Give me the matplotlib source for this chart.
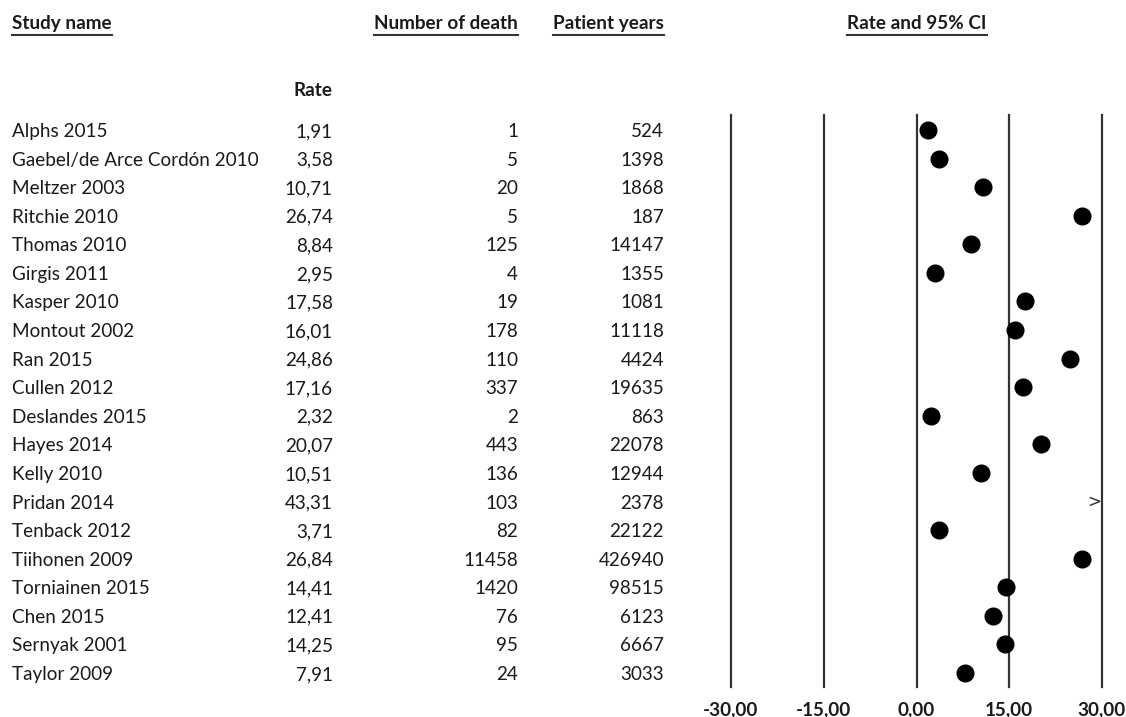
import matplotlib

matplotlib.use("Agg")

import matplotlib.pyplot as plt
from matplotlib.lines import Line2D
from matplotlib.transforms import blended_transform_factory

studies = [
    "Alphs 2015", "Gaebel/de Arce Cordón 2010", "Meltzer 2003", "Ritchie 2010",
    "Thomas 2010", "Girgis 2011", "Kasper 2010", "Montout 2002", "Ran 2015",
    "Cullen 2012", "Deslandes 2015", "Hayes 2014", "Kelly 2010", "Pridan 2014",
    "Tenback 2012", "Tiihonen 2009", "Torniainen 2015", "Chen 2015",
    "Sernyak 2001", "Taylor 2009",
]
rates = [1.91, 3.58, 10.71, 26.74, 8.84, 2.95, 17.58, 16.01, 24.86, 17.16,
         2.32, 20.07, 10.51, 43.31, 3.71, 26.84, 14.41, 12.41, 14.25, 7.91]
deaths = [1, 5, 20, 5, 125, 4, 19, 178, 110, 337, 2, 443, 136, 103, 82,
          11458, 1420, 76, 95, 24]
patient_years = [524, 1398, 1868, 187, 14147, 1355, 1081, 11118, 4424, 19635,
                 863, 22078, 12944, 2378, 22122, 426940, 98515, 6123, 6667, 3033]
ticks = [-30, -15, 0, 15, 30]

W, H = 1126, 717
FONT = "Lato"
FS = 13.6
INK = "#1a1a1a"

plt.rcParams["font.family"] = [FONT, "DejaVu Sans"]

fig = plt.figure(figsize=(W / 100, H / 100), dpi=100)
ax = fig.add_axes([731 / W, 1 - 687 / H, 371 / W, 572 / H])

xmin, xmax = ticks[0], ticks[-1]
ax.set_xlim(xmin, xmax)
n = len(studies)
ax.set_ylim(n - 0.51, -0.525)

for t in ticks:
    ax.axvline(t, color="#333333", lw=1.6, zorder=1, clip_on=False)

rows = list(range(n))
inside = [(r, v) for r, v in zip(rows, rates) if v <= xmax]
ax.plot([v for _, v in inside], [r for r, _ in inside], "o", color="black",
        markersize=12, zorder=3)
# off-scale values get an arrow at the right edge
for r, v in zip(rows, rates):
    if v > xmax:
        ax.text(xmax - 0.2, r, ">", ha="right", va="center", fontsize=12,
                color="#333333", family="DejaVu Sans")

ax.set_yticks([])
ax.set_xticks(ticks)
ax.set_xticklabels([f"{t:.2f}".replace(".", ",") for t in ticks],
                   fontsize=FS, fontweight="bold", color=INK)
ax.tick_params(axis="x", length=0, pad=10)
for s in ax.spines.values():
    s.set_visible(False)

# table columns: x in figure fraction, y on the forest plot's row scale
tr = blended_transform_factory(fig.transFigure, ax.transData)
x_name, x_rate, x_death, x_years = 12 / W, 333 / W, 518 / W, 664 / W
row_kw = dict(transform=tr, va="center_baseline", fontsize=FS, color=INK)
for r in rows:
    ax.text(x_name, r, studies[r], ha="left", **row_kw)
    ax.text(x_rate, r, f"{rates[r]:.2f}".replace(".", ","), ha="right", **row_kw)
    ax.text(x_death, r, str(deaths[r]), ha="right", **row_kw)
    ax.text(x_years, r, str(patient_years[r]), ha="right", **row_kw)

# headers
hy = 1 - 29 / H
head_kw = dict(va="baseline", fontsize=FS, fontweight="bold", color=INK)
headers = [
    fig.text(x_name, hy, "Study name", ha="left", **head_kw),
    fig.text(x_death, hy, "Number of death", ha="right", **head_kw),
    fig.text(x_years, hy, "Patient years", ha="right", **head_kw),
    fig.text(917 / W, hy, "Rate and 95% CI", ha="center", **head_kw),
]
fig.text(x_rate, 1 - 96 / H, "Rate", ha="right", **head_kw)

# underline the column headers
fig.canvas.draw()
renderer = fig.canvas.get_renderer()
yline = 1 - 34.5 / H
for h in headers:
    bb = h.get_window_extent(renderer)
    fig.add_artist(Line2D([bb.x0 / W, bb.x1 / W], [yline, yline],
                          transform=fig.transFigure, color="#333333", lw=1.5))

fig.savefig("out.png", dpi=100)
